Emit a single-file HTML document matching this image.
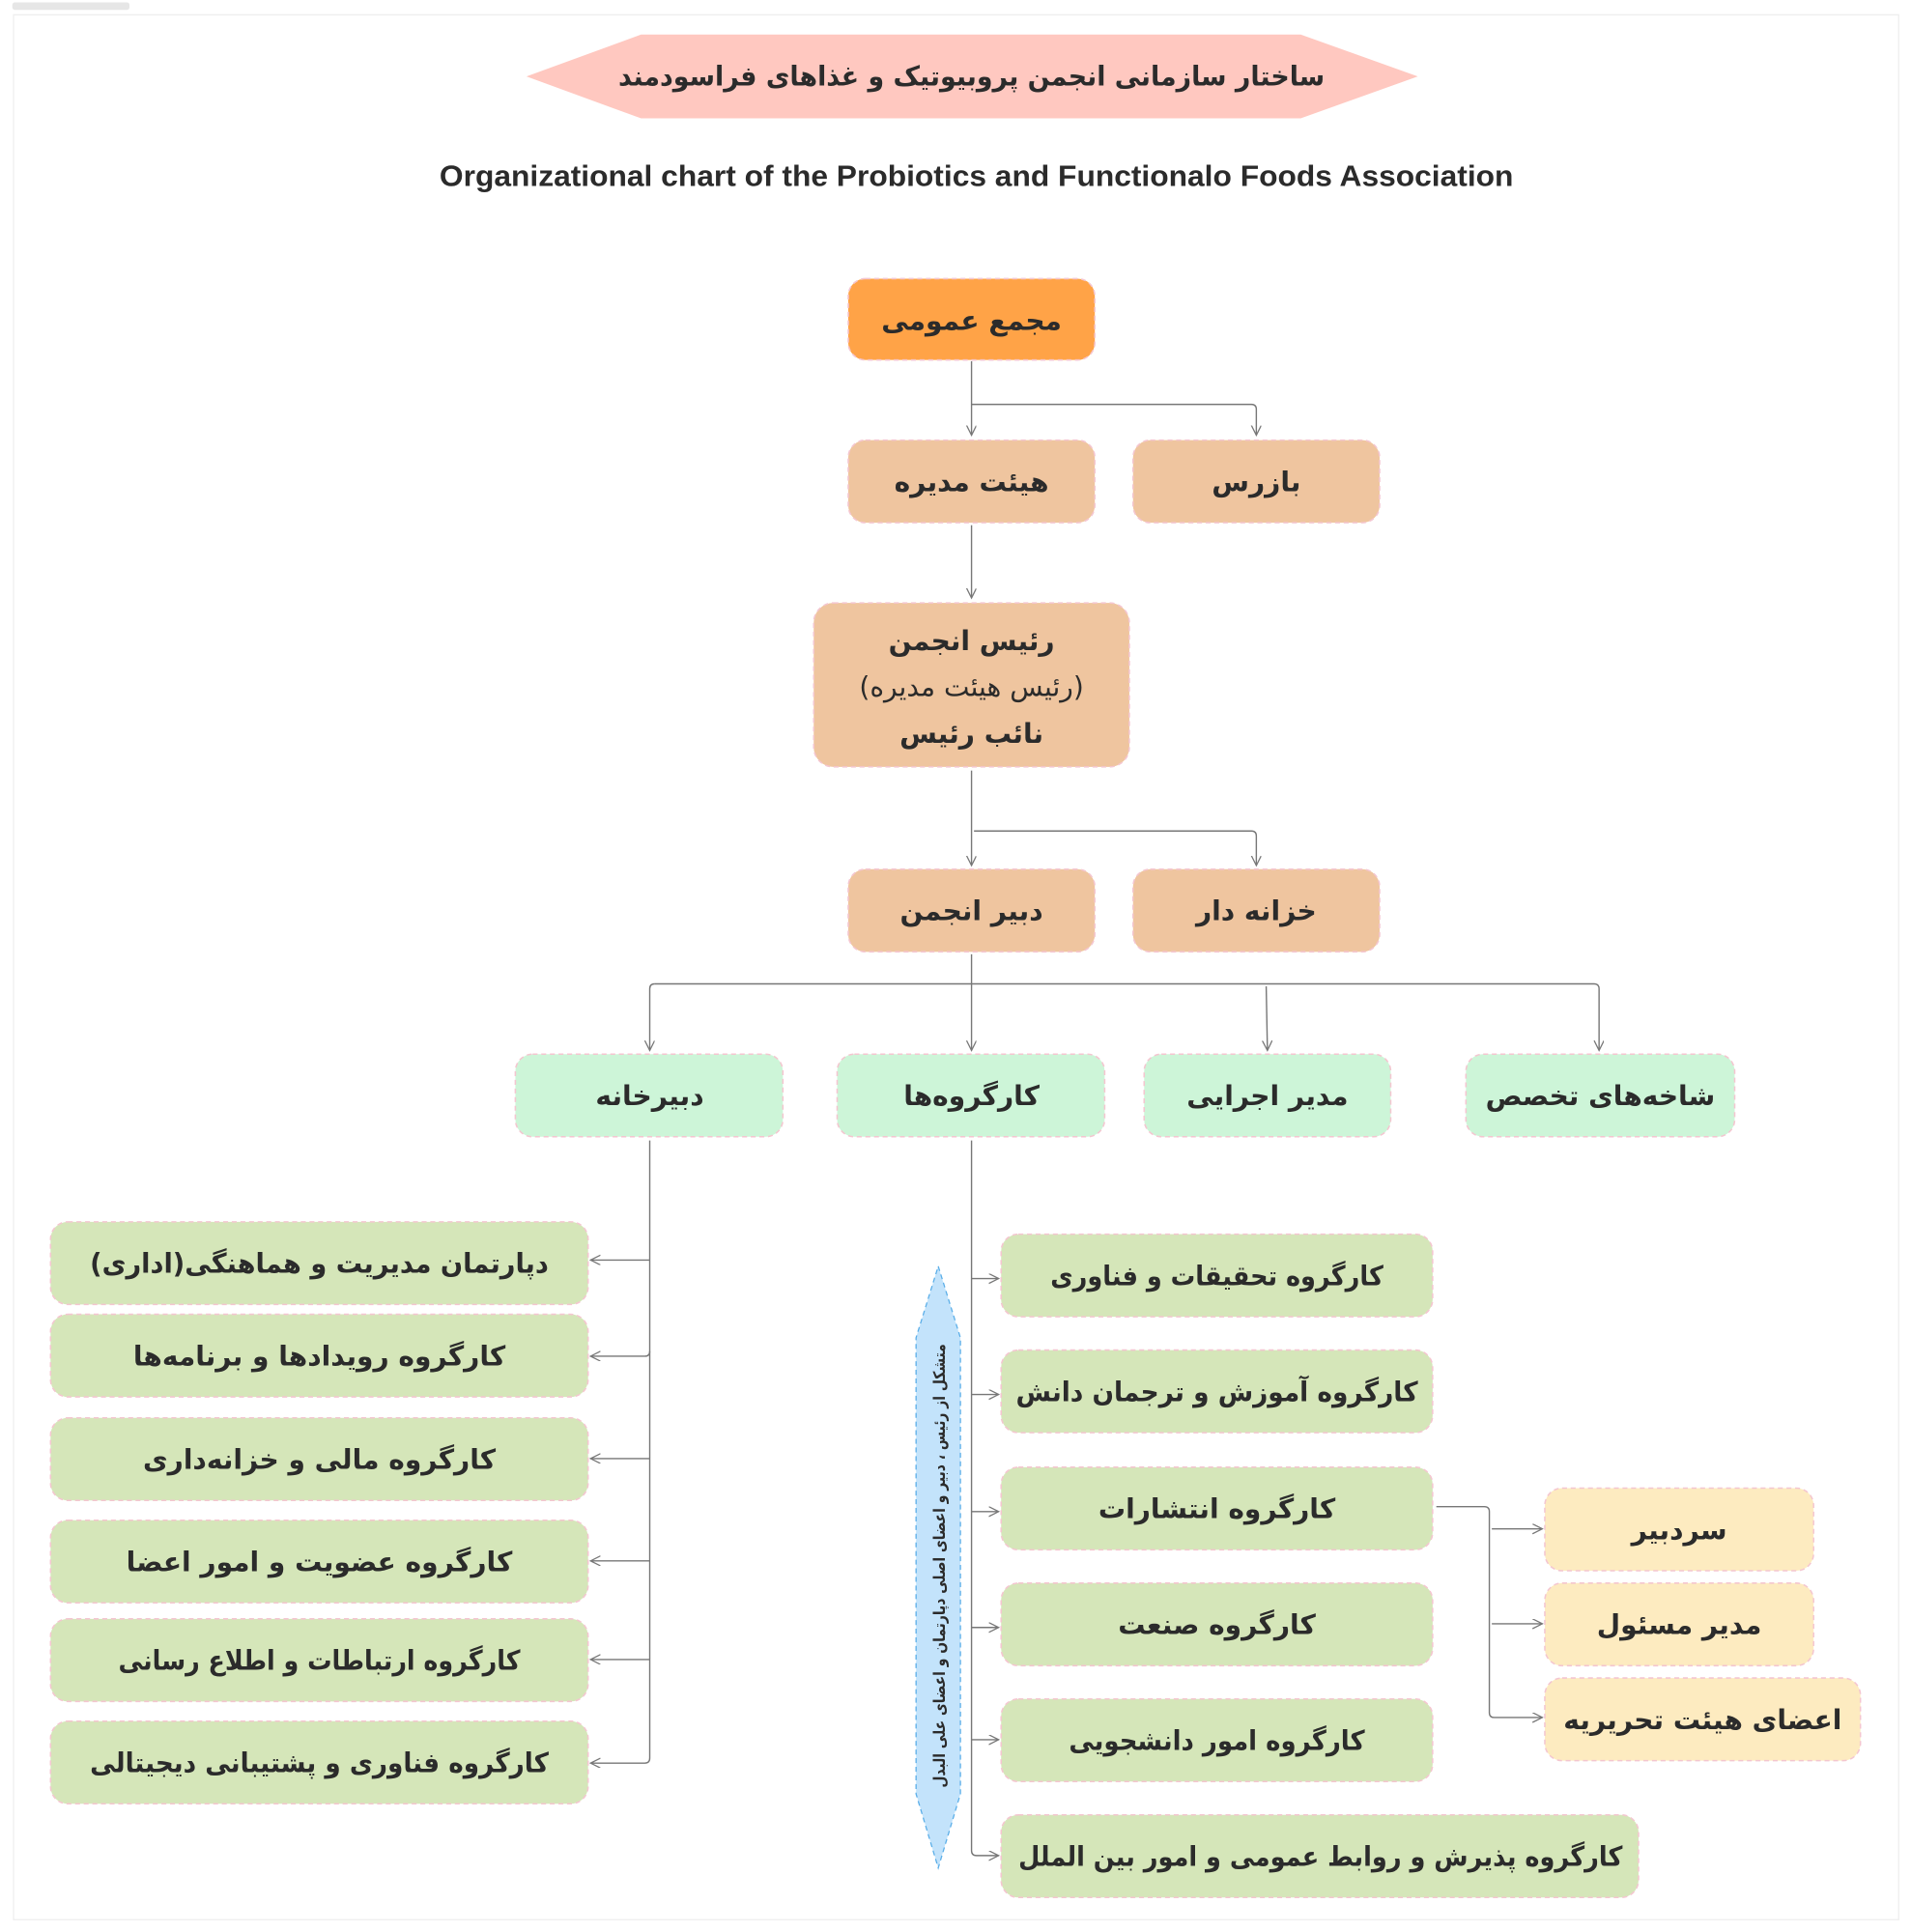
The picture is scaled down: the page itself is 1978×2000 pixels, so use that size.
<!DOCTYPE html>
<html><head><meta charset="utf-8"><style>
html,body{margin:0;padding:0;background:#fff;}
svg{display:block}
text{font-family:"DejaVu Sans","Liberation Sans",sans-serif;fill:#2b2b2b;text-anchor:middle;dominant-baseline:central;font-weight:bold;font-size:22px}
.en{font-family:"Liberation Sans",sans-serif;font-size:24px}
.b rect{stroke:#f4c6d0;stroke-width:1.2;stroke-dasharray:4 3}
.ln{stroke:#777;stroke-width:1.1;fill:none}
</style></head><body>
<svg width="1978" height="2000" viewBox="0 0 1550 1567" preserveAspectRatio="none" xmlns="http://www.w3.org/2000/svg">
<defs><marker id="a" markerWidth="10" markerHeight="10" refX="8" refY="4" orient="auto" markerUnits="userSpaceOnUse"><path d="M0,0 L8,4 L0,8" fill="none" stroke="#777" stroke-width="1"/></marker></defs>
<rect x="10" y="2" width="95" height="6" rx="2" fill="#e6e6e6"/>
<rect x="11" y="12" width="1529" height="1545" fill="none" stroke="#eeeeee" stroke-width="1"/>
<polygon points="427,62 520,28 1055,28 1150,62 1055,96 520,96" fill="#ffc8c0"/>
<text x="788" y="62" font-size="24" textLength="573" lengthAdjust="spacingAndGlyphs">ساختار سازمانی انجمن پروبیوتیک و غذاهای فراسودمند</text>
<text class="en" x="792" y="143" textLength="871" lengthAdjust="spacingAndGlyphs">Organizational chart of the Probiotics and Functionalo Foods Association</text>

<g class="ln">
<path d="M788,293 V353" marker-end="url(#a)"/>
<path d="M788,328 H1015 Q1019,328 1019,332 V353" marker-end="url(#a)"/>
<path d="M788,426 V485" marker-end="url(#a)"/>
<path d="M788,625 V702" marker-end="url(#a)"/>
<path d="M790,674 H1015 Q1019,674 1019,678 V702" marker-end="url(#a)"/>
<path d="M788,774 V852" marker-end="url(#a)"/>
<path d="M531,798 H1293 Q1297,798 1297,802 V852" marker-end="url(#a)"/>
<path d="M531,798 Q527,798 527,802 V852" marker-end="url(#a)"/>
<path d="M1027,800 L1028,852" marker-end="url(#a)"/>
<path d="M527,925 V1426 Q527,1430 523,1430 H479" marker-end="url(#a)"/>
<path d="M527,1022 H479" marker-end="url(#a)"/>
<path d="M527,1096 Q527,1100 523,1100 H479" marker-end="url(#a)"/>
<path d="M527,1183 H479" marker-end="url(#a)"/>
<path d="M527,1266 H479" marker-end="url(#a)"/>
<path d="M527,1346 H479" marker-end="url(#a)"/>
<path d="M788,925 V1501 Q788,1505 792,1505 H810" marker-end="url(#a)"/>
<path d="M788,1037 H810" marker-end="url(#a)"/>
<path d="M788,1131 H810" marker-end="url(#a)"/>
<path d="M788,1226 H810" marker-end="url(#a)"/>
<path d="M788,1320 H810" marker-end="url(#a)"/>
<path d="M788,1411 H810" marker-end="url(#a)"/>
<path d="M1165,1222 H1204 Q1208,1222 1208,1226 V1389 Q1208,1393 1212,1393 H1251" marker-end="url(#a)"/>
<path d="M1210,1240 H1251" marker-end="url(#a)"/>
<path d="M1210,1317 H1251" marker-end="url(#a)"/>
</g>

<g class="b">
<rect x="688" y="226" width="200" height="66" rx="14" fill="#ffa347"/><text x="788" y="260">مجمع عمومی</text>
<rect x="688" y="357" width="200" height="67" rx="14" fill="#efc59f"/><text x="788" y="391">هیئت مدیره</text>
<rect x="919" y="357" width="200" height="67" rx="14" fill="#efc59f"/><text x="1019" y="391">بازرس</text>
<rect x="660" y="489" width="256" height="133" rx="16" fill="#efc59f"/>
<text x="788" y="520">رئیس انجمن</text>
<text x="788" y="557" style="font-weight:normal">(رئیس هیئت مدیره)</text>
<text x="788" y="595">نائب رئیس</text>
<rect x="688" y="705" width="200" height="67" rx="14" fill="#efc59f"/><text x="788" y="739">دبیر انجمن</text>
<rect x="919" y="705" width="200" height="67" rx="14" fill="#efc59f"/><text x="1019" y="739">خزانه دار</text>

<rect x="418" y="855" width="217" height="67" rx="14" fill="#cdf5d8"/><text x="527" y="889">دبیرخانه</text>
<rect x="679" y="855" width="217" height="67" rx="14" fill="#cdf5d8"/><text x="788" y="889">کارگروه‌ها</text>
<rect x="928" y="855" width="200" height="67" rx="14" fill="#cdf5d8"/><text x="1028" y="889">مدیر اجرایی</text>
<rect x="1189" y="855" width="218" height="67" rx="14" fill="#cdf5d8"/><text x="1298" y="889">شاخه‌های تخصص</text>

<rect x="41" y="991" width="436" height="67" rx="14" fill="#d5e6b9"/><text x="259" y="1025" textLength="372" lengthAdjust="spacingAndGlyphs">دپارتمان مدیریت و هماهنگی(اداری)</text>
<rect x="41" y="1066" width="436" height="67" rx="14" fill="#d5e6b9"/><text x="259" y="1100">کارگروه رویدادها و برنامه‌ها</text>
<rect x="41" y="1150" width="436" height="67" rx="14" fill="#d5e6b9"/><text x="259" y="1184">کارگروه مالی و خزانه‌داری</text>
<rect x="41" y="1233" width="436" height="67" rx="14" fill="#d5e6b9"/><text x="259" y="1267">کارگروه عضویت و امور اعضا</text>
<rect x="41" y="1313" width="436" height="67" rx="14" fill="#d5e6b9"/><text x="259" y="1347" textLength="326" lengthAdjust="spacingAndGlyphs">کارگروه ارتباطات و اطلاع رسانی</text>
<rect x="41" y="1396" width="436" height="67" rx="14" fill="#d5e6b9"/><text x="259" y="1430" textLength="372" lengthAdjust="spacingAndGlyphs">کارگروه فناوری و پشتیبانی دیجیتالی</text>

<rect x="812" y="1001" width="350" height="67" rx="14" fill="#d5e6b9"/><text x="987" y="1035" textLength="270" lengthAdjust="spacingAndGlyphs">کارگروه تحقیقات و فناوری</text>
<rect x="812" y="1095" width="350" height="67" rx="14" fill="#d5e6b9"/><text x="987" y="1129" textLength="326" lengthAdjust="spacingAndGlyphs">کارگروه آموزش و ترجمان دانش</text>
<rect x="812" y="1190" width="350" height="67" rx="14" fill="#d5e6b9"/><text x="987" y="1224">کارگروه انتشارات</text>
<rect x="812" y="1284" width="350" height="67" rx="14" fill="#d5e6b9"/><text x="987" y="1318">کارگروه صنعت</text>
<rect x="812" y="1378" width="350" height="67" rx="14" fill="#d5e6b9"/><text x="987" y="1412" textLength="240" lengthAdjust="spacingAndGlyphs">کارگروه امور دانشجویی</text>
<rect x="812" y="1472" width="517" height="67" rx="14" fill="#d5e6b9"/><text x="1071" y="1506" textLength="490" lengthAdjust="spacingAndGlyphs">کارگروه پذیرش و روابط عمومی و امور بین الملل</text>

<rect x="1253" y="1207" width="218" height="67" rx="14" fill="#fdebc0"/><text x="1362" y="1241">سردبیر</text>
<rect x="1253" y="1284" width="218" height="67" rx="14" fill="#fdebc0"/><text x="1362" y="1318">مدیر مسئول</text>
<rect x="1253" y="1361" width="256" height="67" rx="14" fill="#fdebc0"/><text x="1381" y="1395">اعضای هیئت تحریریه</text>
</g>

<polygon points="761,1027 779,1085 779,1455 761,1515 743,1455 743,1085" fill="#c3e3fb" stroke="#5aaee8" stroke-width="1" stroke-dasharray="4 3"/>
<text x="762" y="1270" transform="rotate(-90 762 1270)" textLength="360" lengthAdjust="spacingAndGlyphs" style="font-weight:bold;font-size:13px">متشکل از رئیس ، دبیر و اعضای اصلی دپارتمان و اعضای علی البدل</text>
</svg>
</body></html>
